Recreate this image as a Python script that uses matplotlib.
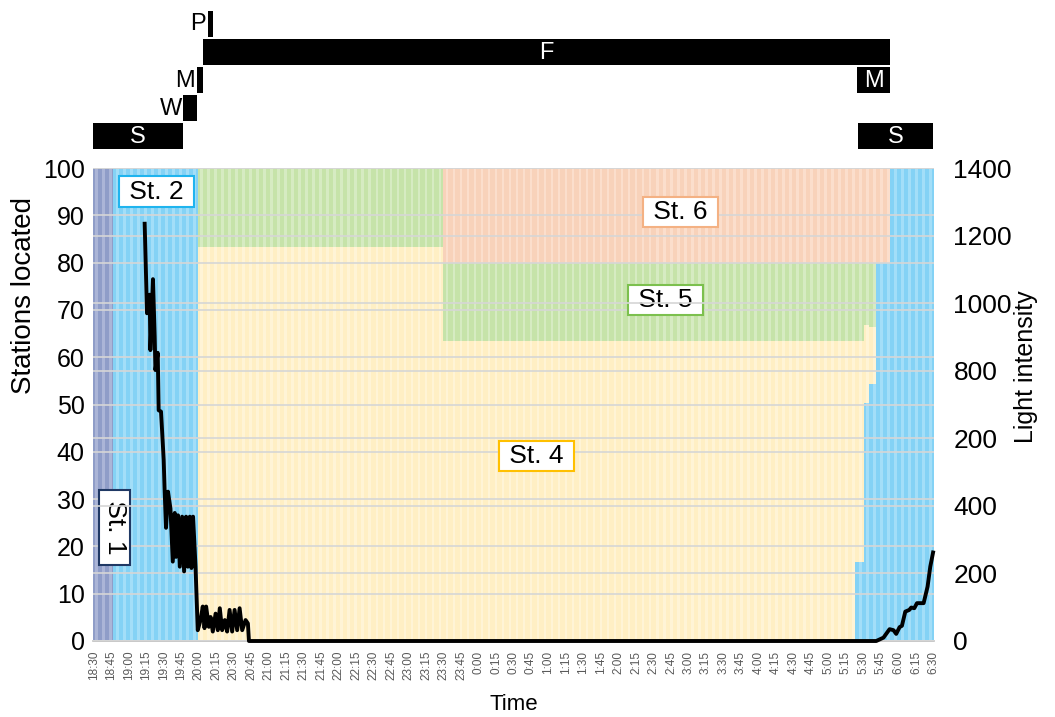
import numpy as np
import matplotlib
matplotlib.use("Agg")
import matplotlib.pyplot as plt

plt.rcParams['font.family'] = ['Liberation Sans', 'DejaVu Sans']

# ---------------- data ----------------
# time segments (minute index from 18:30) and station shares (%) per segment
seg_start = [0, 17, 90, 300, 653, 661, 665, 671, 683]
seg_end   = [17, 90, 300, 653, 661, 665, 671, 683, 721]
st1 = [100, 0, 0, 0, 0, 0, 0, 0, 0]
st2 = [0, 100, 0, 0, 16.7, 50.3, 54.3, 80, 100]
st4 = [0, 0, 83.3, 63.4, 46.7, 16.5, 12.0, 0, 0]
st5 = [0, 0, 16.7, 16.6, 16.6, 13.2, 13.7, 0, 0]
st6 = [0, 0, 0, 20, 20, 20, 20, 20, 0]

# light intensity (minutes from 18:30, lux)
light_t = [43.8, 45.8, 48.1, 48.7, 50.9, 52.4, 53.0, 55.0, 55.8, 57.8, 58.7,
           60.1, 60.9, 62.1, 63.8, 65.9, 67.9, 69.6, 70.7, 72.4, 73.9, 75.9,
           77.6, 79.3, 80.8, 82.5, 83.9, 85.3, 87.4, 89.3, 91.7, 93.6, 95.1,
           96.5, 98.8, 100.3, 102.2, 104.6, 106.5, 108.2, 110.2, 112.5, 114.5,
           116.6, 118.8, 120.9, 123.1, 125.2, 127.4, 130.3, 132.3, 133.2,
           671.0, 677.2, 682.4, 685.8, 688.1, 691.0, 693.0, 695.9, 699.3,
           701.0, 703.6, 705.9, 711.6, 715.0, 717.3, 719.7]
light_lux = [1235, 970, 1025, 861, 1071, 900, 802, 853, 683, 679, 624,
             536, 447, 335, 442, 392, 235, 379, 249, 372, 220, 368,
             206, 368, 220, 368, 216, 368, 220, 32, 62, 102, 38,
             102, 42, 71, 28, 81, 32, 97, 32, 62, 28,
             92, 28, 92, 32, 97, 32, 62, 52, 0,
             0, 10, 35, 32, 21, 41, 45, 87, 92,
             99, 97, 112, 112, 161, 220, 262]

time_labels = ['18:30', '18:45', '19:00', '19:15', '19:30', '19:45', '20:00', '20:15',
               '20:30', '20:45', '21:00', '21:15', '21:30', '21:45', '22:00', '22:15',
               '22:30', '22:45', '23:00', '23:15', '23:30', '23:45', '0:00', '0:15',
               '0:30', '0:45', '1:00', '1:15', '1:30', '1:45', '2:00', '2:15',
               '2:30', '2:45', '3:00', '3:15', '3:30', '3:45', '4:00', '4:15',
               '4:30', '4:45', '5:00', '5:15', '5:30', '5:45', '6:00', '6:15', '6:30']
left_ticks = [0, 10, 20, 30, 40, 50, 60, 70, 80, 90, 100]
right_ticks = [0, 200, 400, 600, 800, 1000, 1200, 1400]
right_labels = ['0', '200', '400', '200', '800', '1000', '1200', '1400']

# behaviour rows (start, end in minutes)
act_rows = ['P', 'F', 'M', 'W', 'S']
act_P = [(98, 102)]
act_F = [(93.6, 683)]
act_M = [(88.5, 93.6), (654.6, 683)]
act_W = [(77, 88.5)]
act_S = [(-1, 76.5), (655.5, 720)]

# ---------------- figure ----------------
W, H = 1055, 717
fig = plt.figure(figsize=(W / 100, H / 100), dpi=100)
L, R, T, B = 93, 934, 168, 641
ax = fig.add_axes([L / W, (H - B) / H, (R - L) / W, (B - T) / H])

lengths = np.array(seg_end) - np.array(seg_start)
x = np.arange(seg_start[0], seg_end[-1])
series = [st1, st2, st4, st5, st6]
light_cols = ['#ABB5D7', '#A3DEF8', '#FFF4D6', '#D6EBC2', '#FBDECC']
dark_cols = ['#8F9DC8', '#84D2F5', '#FFEFC4', '#C6E3A9', '#F8D2BA']
bottom = np.zeros(len(x))
for vals, c1, c2 in zip(series, light_cols, dark_cols):
    v = np.repeat(np.array(vals, dtype=float), lengths)
    ax.bar(x, v, width=1.0, bottom=bottom, color=c1, linewidth=0, zorder=1)
    ax.bar(x, v, width=0.62, bottom=bottom, color=c2, linewidth=0, zorder=1.1)
    bottom += v

ax.set_xlim(-0.5, 720.5)
ax.set_ylim(0, 100)
ax.set_yticks(left_ticks)
ax.tick_params(axis='y', length=0, labelsize=18, pad=6)
ax.set_xticks(np.arange(0, 721, 15))
ax.set_xticklabels(time_labels, rotation=90, fontsize=8.5, color='#595959')
ax.tick_params(axis='x', length=0, pad=7)
ax.set_axisbelow(False)
ax.grid(axis='y', color='#D6D6D6', lw=1.2, zorder=2)
for s in ['left', 'right', 'top']:
    ax.spines[s].set_visible(False)
ax.spines['bottom'].set_color('#BFBFBF')
ax.spines['bottom'].set_linewidth(1.2)
ax.set_xlabel('Time', fontsize=16, labelpad=10)

ax2 = ax.twinx()
ax2.set_ylim(0, 1400)
ax2.set_yticks(right_ticks)
ax2.set_yticklabels(right_labels)
ax2.tick_params(axis='y', length=0, labelsize=19, pad=14)
ax2.grid(axis='y', color='#D6D6D6', lw=1.2)
for s in ['left', 'right', 'top', 'bottom']:
    ax2.spines[s].set_visible(False)
ax2.plot(light_t, light_lux, color='black', lw=2.8, solid_joinstyle='round',
         zorder=5, clip_on=False)

# axis titles
fig.text(24 / W, 1 - 296 / H, 'Stations located', fontsize=20, rotation=90,
         ha='center', va='center')
fig.text(1026 / W, 1 - 367 / H, 'Light intensity', fontsize=18, rotation=90,
         ha='center', va='center')

# station labels
def box(xd, yd, txt, ec, rot=0):
    ax.text(xd, yd, txt, fontsize=19, ha='center', va='center', rotation=rot, zorder=6,
            bbox=dict(boxstyle='square,pad=0.12', fc='white', ec=ec, lw=1.5))

box(54, 95.0, ' St. 2 ', '#1FB4EE')
box(18, 24.0, ' St. 1 ', '#1F3864', rot=270)
box(503, 90.7, ' St. 6 ', '#F4B183')
box(490, 72.1, ' St. 5 ', '#7CC04E')
box(380, 39.1, ' St. 4 ', '#FFC000')

# behaviour bars
axt = fig.add_axes([L / W, (H - 150) / H, (R - L) / W, 140 / H])
axt.set_xlim(-0.5, 720.5)
axt.set_ylim(150, 10)
axt.axis('off')
row_y = {'P': 23.5, 'F': 52, 'M': 80, 'W': 108, 'S': 136}
acts = {'P': act_P, 'F': act_F, 'M': act_M, 'W': act_W, 'S': act_S}
for name in act_rows:
    for (a, b) in acts[name]:
        axt.barh(row_y[name], b - a, left=a, height=26, color='black', linewidth=0)
        if b - a > 20:
            axt.text((a + b) / 2, row_y[name] + 1, name, color='white', fontsize=17,
                     ha='center', va='center')
        else:
            axt.text(a - 1.5, row_y[name] + 1, name, color='black', fontsize=17,
                     ha='right', va='center')

fig.savefig('out.png', dpi=100)
